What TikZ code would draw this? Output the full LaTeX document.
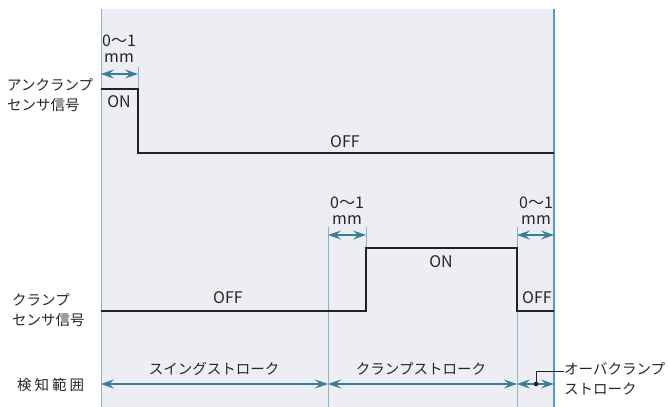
\documentclass[tikz,border=0pt]{standalone}
\usepackage{fontspec}
\setmainfont{Noto Sans CJK JP}
\usetikzlibrary{arrows.meta}

\definecolor{panelbg}{HTML}{EDEEF4}
\definecolor{guideblue}{HTML}{86B4CA}
\definecolor{edgeblue}{HTML}{4F9DC6}
\definecolor{dimteal}{HTML}{3A7D96}
\definecolor{sigblack}{HTML}{222222}

\tikzset{
  signal/.style={line width=2.4pt, sigblack, line join=miter},
  guide/.style={line width=1pt, guideblue},
  dimarrow/.style={dimteal, line width=1.3pt, {Stealth[length=13pt,width=9pt,inset=5pt]}-{Stealth[length=13pt,width=9pt,inset=5pt]}},
  halfarrow/.style={dimteal, line width=1.3pt, -{Stealth[length=13pt,width=9pt,inset=5pt]}},
  txt/.style={font=\fontsize{14.5}{20}\selectfont, inner sep=0pt, text=black!85},
  lat/.style={txt, font=\fontsize{16}{16}\selectfont},
}

\begin{document}
\begin{tikzpicture}[x=1pt,y=-1pt]
  \useasboundingbox (0,0) rectangle (670,407);
  \fill[panelbg] (101,9) rectangle (554,407);

  % time points
  \coordinate (t0top) at (101,9);    \coordinate (t0bot) at (101,407);
  \coordinate (t4top) at (554,9);    \coordinate (t4bot) at (554,407);
  \coordinate (t1top) at (138,67);   \coordinate (t1bot) at (138,89);
  \coordinate (t2top) at (328,227);  \coordinate (t2bot) at (328,407);
  \coordinate (t3top) at (366,227);  \coordinate (t3bot) at (366,248);
  \coordinate (t5top) at (517,227);  \coordinate (t5bot) at (517,407);

  \draw[guide] (t0top) -- (t0bot);
  \foreach \t in {t1,t2,t3,t5} \draw[guide] (\t top) -- (\t bot);
  \draw[line width=1.2pt, edgeblue] (t4top) -- (t4bot);

  % unclamp signal
  \coordinate (ua) at (101,89);  \coordinate (ub) at (138,89);
  \coordinate (uc) at (138,153); \coordinate (ud) at (554,153);
  \draw[signal] (ua) -- (ub) -- (uc) -- (ud);
  \node[lat] (uon) at (119,102) {ON};
  \node[lat] (uoff) at (345,142) {OFF};

  % clamp signal
  \coordinate (ca) at (101,311); \coordinate (cb) at (366,311);
  \coordinate (cc) at (366,248); \coordinate (cd) at (517,248);
  \coordinate (ce) at (517,311); \coordinate (cf) at (554,311);
  \draw[signal] (ca) -- (cb) -- (cc) -- (cd) -- (ce) -- (cf);
  \node[lat] (coff1) at (228,298) {OFF};
  \node[lat] (con) at (441,262) {ON};
  \node[lat] (coff2) at (537,298) {OFF};

  % 0~1 mm gaps
  \coordinate (g1a) at (101,74);  \coordinate (g1b) at (138,74);
  \coordinate (g2a) at (328,235); \coordinate (g2b) at (366,235);
  \coordinate (g3a) at (517,235); \coordinate (g3b) at (554,235);
  \draw[dimarrow] (g1a) -- (g1b);
  \draw[dimarrow] (g2a) -- (g2b);
  \draw[dimarrow] (g3a) -- (g3b);
  \node[lat, align=center] (gap1) at (119,49) {0〜1\\mm};
  \node[lat, align=center] (gap2) at (347,211) {0〜1\\mm};
  \node[lat, align=center] (gap3) at (536,211) {0〜1\\mm};

  % row labels
  \node[txt, anchor=west, align=left] (unclamp) at (7,95) {アンクランプ\\センサ信号};
  \node[txt, anchor=west, align=left] (clamp) at (12,310) {クランプ\\センサ信号};
  \node[txt, anchor=west] (range) at (17,385) {検\hspace{3pt}知\hspace{3pt}範\hspace{3pt}囲};

  % strokes
  \coordinate (s0) at (101,384); \coordinate (s1) at (328,384);
  \coordinate (s2) at (517,384); \coordinate (s3) at (554,384);
  \coordinate (smid) at (536,384);
  \draw[dimarrow] (s0) -- (s1);
  \draw[dimarrow] (s1) -- (s2);
  \draw[halfarrow] (smid) -- (s2);
  \draw[halfarrow] (smid) -- (s3);
  \node[txt] (swing) at (214,369) {スイングストローク};
  \node[txt] (clampst) at (421,369) {クランプストローク};
  \node[txt, anchor=west, align=left] (over) at (564,379) {オーバクランプ\\ストローク};
  \coordinate (bend) at (536,371);
  \draw[line width=0.8pt, sigblack] (smid) -- (bend) -- (over.west |- bend);
  \fill[sigblack] (smid) circle (2.3pt);
\end{tikzpicture}
\end{document}
